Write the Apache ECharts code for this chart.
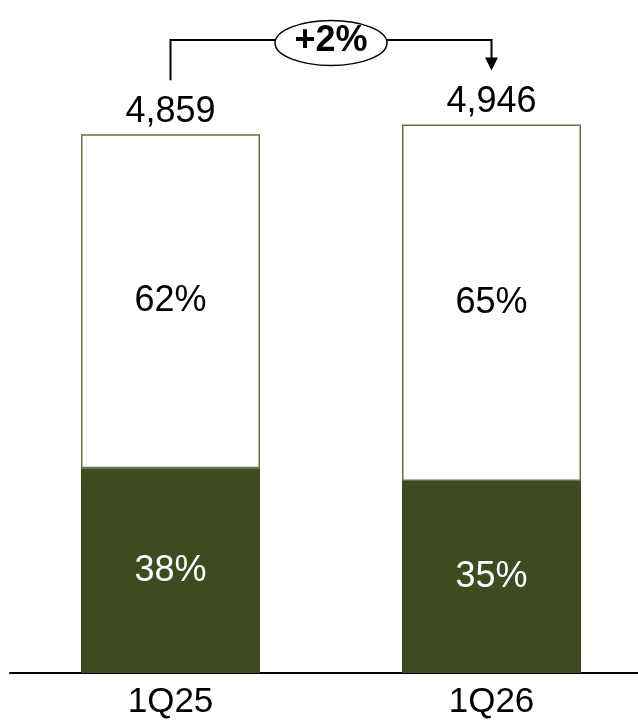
<!DOCTYPE html>
<html>
<head>
<meta charset="utf-8">
<script src="https://cdn.jsdelivr.net/npm/echarts@6/dist/echarts.min.js"></script>
<style>
  html, body { margin: 0; padding: 0; background: #fff; }
  #chart { width: 638px; height: 721px; }
</style>
</head>
<body>
<div id="chart"></div>
<script>
// Quarterly totals and the split between the two segments
const categories = ['1Q25', '1Q26'];
const totals = [4859, 4946];
const darkShare = [38, 35];   // bottom segment, %
const lightShare = [62, 65];  // top segment, %
const changeLabel = '+2%';

const FONT = '"Liberation Sans", Arial, sans-serif';
const DARK = '#3f4a20';
const EDGE = '#66704a';

const darkValues = totals.map((t, i) => t * darkShare[i] / 100);
const lightValues = totals.map((t, i) => t - darkValues[i]);
const fmt = v => v.toLocaleString('en-US');

const chart = echarts.init(document.getElementById('chart'));

chart.setOption({
  animation: false,
  backgroundColor: '#fff',
  grid: {
    left: 10, width: 642, top: 7.6, height: 665.4,
    containLabel: false, outerBoundsMode: 'none'
  },
  xAxis: {
    type: 'category',
    data: categories,
    axisLine: { lineStyle: { color: '#000', width: 2 } },
    axisTick: { show: false },
    axisLabel: { color: '#000', fontFamily: FONT, fontSize: 35, margin: 12 }
  },
  yAxis: { type: 'value', min: 0, max: 6000, show: false, splitLine: { show: false } },
  series: [
    {
      type: 'bar',
      stack: 'total',
      barWidth: 179,
      data: darkValues,
      itemStyle: { color: DARK },
      label: {
        show: true, position: 'inside', color: '#fff',
        fontFamily: FONT, fontSize: 36,
        formatter: p => darkShare[p.dataIndex] + '%'
      },
      z: 2
    },
    {
      type: 'bar',
      stack: 'total',
      barWidth: 179,
      data: lightValues,
      itemStyle: { color: '#fff', borderColor: EDGE, borderWidth: 1.5 },
      label: {
        show: true, position: 'inside', color: '#000',
        fontFamily: FONT, fontSize: 36,
        formatter: p => lightShare[p.dataIndex] + '%'
      },
      z: 2
    },
    {
      // invisible carrier for the total labels above each bar
      type: 'bar',
      stack: 'total',
      barWidth: 179,
      data: totals.map(() => 0),
      itemStyle: { color: 'transparent' },
      label: {
        show: true, position: 'top', distance: 4, color: '#000',
        fontFamily: FONT, fontSize: 36,
        formatter: p => fmt(totals[p.dataIndex])
      },
      z: 3
    }
  ]
});

// Growth bracket between the two bar tops
const p0 = chart.convertToPixel({ gridIndex: 0 }, [0, totals[0]]);
const p1 = chart.convertToPixel({ gridIndex: 0 }, [1, totals[1]]);
const lineY = 40;
const startY = p0[1] - 54;
const tipY = p1[1] - 54;
const midX = (p0[0] + p1[0]) / 2;
const rx = 56, ry = 22.5;
const stroke = { stroke: '#000', lineWidth: 2, fill: null };

chart.setOption({
  graphic: [
    { type: 'polyline', shape: { points: [[p0[0], startY], [p0[0], lineY], [midX - rx, lineY]] }, style: stroke, z: 10 },
    { type: 'polyline', shape: { points: [[midX + rx, lineY], [p1[0], lineY], [p1[0], tipY - 12]] }, style: stroke, z: 10 },
    { type: 'polygon', shape: { points: [[p1[0] - 6.5, tipY - 13], [p1[0] + 6.5, tipY - 13], [p1[0], tipY]] }, style: { fill: '#000' }, z: 10 },
    { type: 'ellipse', shape: { cx: midX, cy: lineY + 3, rx: rx, ry: ry }, style: { fill: '#fff', stroke: '#000', lineWidth: 1.5 }, z: 10 },
    {
      type: 'text', x: midX, y: lineY + 1, z: 11,
      style: {
        text: changeLabel, fill: '#000', font: 'bold 36px ' + FONT,
        textAlign: 'center', textVerticalAlign: 'middle'
      }
    }
  ]
});
</script>
</body>
</html>
